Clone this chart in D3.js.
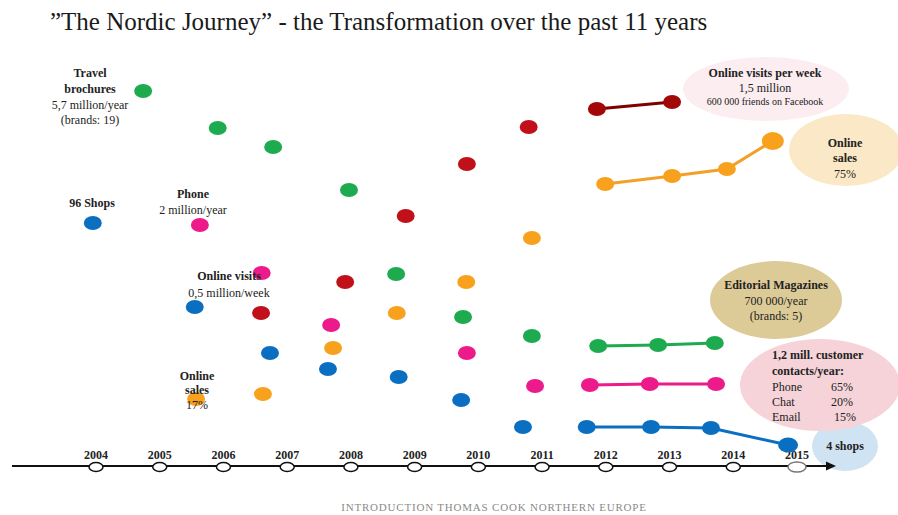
<!DOCTYPE html>
<html><head><meta charset="utf-8">
<script src="https://cdn.jsdelivr.net/npm/d3@7/dist/d3.min.js"></script>
<style>
html,body{margin:0;padding:0;background:#fff;}
svg{display:block;font-family:"Liberation Serif","Times New Roman",serif;}
</style></head>
<body><svg id="chart" width="898" height="515"></svg>
<script>
// ---------- data ----------
const years = [2004,2005,2006,2007,2008,2009,2010,2011,2012,2013,2014,2015];
const seriesNames = ["Travel brochures","Online visits","Phone","Shops","Online sales"];
const brochureX = [2004.74,2005.91,2006.78,2007.97,2008.71,2009.76,2010.84,2011.88,2012.82,2013.71];
const brochureY = [375,338,319,276,192,149,130,120,121,123];
const visitsX = [2006.59,2007.91,2008.86,2009.82,2010.79,2011.86,2013.04];
const visitsY = [153,184,250,302,339,357,364];
const phoneX = [2005.63,2006.60,2007.69,2009.82,2010.89,2011.75,2012.69,2013.73];
const phoneY = [241,193,141,113,80,81,82,82];
const shopsX = [2003.95,2005.55,2006.73,2007.64,2008.75,2009.73,2010.70,2011.70,2012.71,2013.65,2014.86];
const shopsY = [243,159,113,97,89,66,39,39,39,38,21];
const salesX = [2005.57,2006.62,2007.72,2008.72,2009.81,2010.84,2011.99,2013.04,2013.90,2014.62];
const salesY = [67,72,118,153,184,228,282,290,297,325];
const trendStart = [7,5,5,7,6];   // index from which the recent points are connected
const dotColors = ["#1eab50","#c1101a","#ec1a8b","#0b6fc1","#f7a11d"];
const trendColors = ["#1eab50","#a20808","#ec1a8b","#0b6fc1","#f7a11d"];
const lineColors = ["#1eab50","#7e0000","#ec1a8b","#0b6fc1","#f2a02a"];

const title = "\u201DThe Nordic Journey\u201D - the Transformation over the past 11 years";
const footer = "INTRODUCTION THOMAS COOK NORTHERN EUROPE";

// ---------- layout ----------
const svg = d3.select("#chart");
const x = d3.scaleLinear().domain([2004,2015]).range([96,797]);
const y = d3.scaleLinear().domain([0,400]).range([466,66]);
const axisY = 466;

svg.append("text").attr("x",50).attr("y",30).attr("font-size",25).attr("fill","#1a1a1a")
  .text(title);

// bubbles (background shapes)
const bubbles = [
  {cx:766,cy:89,rx:83,ry:32,fill:"#fcedf0"},
  {cx:846,cy:150,rx:57,ry:36,fill:"#fae8c6"},
  {cx:776,cy:300,rx:66,ry:39,fill:"#dccb97"},
  {cx:845,cy:446,rx:33,ry:25,fill:"#d0e3f3"},
  {cx:820,cy:385,rx:80,ry:46,fill:"#f5d3d8"}
];
svg.append("g").selectAll("ellipse").data(bubbles).join("ellipse")
  .attr("cx",d=>d.cx).attr("cy",d=>d.cy).attr("rx",d=>d.rx).attr("ry",d=>d.ry)
  .attr("fill",d=>d.fill);

// timeline axis
const axis = svg.append("g");
axis.append("line").attr("x1",12).attr("x2",830).attr("y1",axisY).attr("y2",axisY)
  .attr("stroke","#111").attr("stroke-width",2);
axis.append("path").attr("d",`M826,${axisY-4.5}L836,${axisY}L826,${axisY+4.5}Z`).attr("fill","#111");
axis.selectAll("text.yr").data(years).join("text").attr("class","yr")
  .attr("x",d=>x(d)).attr("y",axisY-7).attr("text-anchor","middle")
  .attr("font-size",12).attr("font-weight","bold").attr("fill","#222").text(d=>d);
axis.selectAll("ellipse").data(years).join("ellipse")
  .attr("cx",d=>x(d)).attr("cy",axisY+1).attr("rx",d=>d===2015?9:7).attr("ry",d=>d===2015?5:4.5)
  .attr("fill","#fff").attr("stroke",d=>d===2015?"#777":"#111").attr("stroke-width",1.5);

// series
const allX = [brochureX,visitsX,phoneX,shopsX,salesX];
const allY = [brochureY,visitsY,phoneY,shopsY,salesY];
const series = seriesNames.map((name,i)=>({
  name, color:dotColors[i], trend:trendColors[i], lineColor:lineColors[i],
  pts: allX[i].map((v,j)=>({year:v, val:allY[i][j], j, trend:j>=trendStart[i]})),
  start: trendStart[i]
}));
const line = d3.line().x(d=>x(d.year)).y(d=>y(d.val));
const sg = svg.append("g");
series.forEach((s,i)=>{
  sg.append("path").datum(s.pts.filter(p=>p.trend)).attr("d",line)
    .attr("fill","none").attr("stroke",s.lineColor).attr("stroke-width",3);
});
series.forEach((s,i)=>{
  const n = s.pts.length;
  sg.append("g").selectAll("ellipse").data(s.pts).join("ellipse")
    .attr("cx",d=>x(d.year)).attr("cy",d=>y(d.val))
    .attr("rx",d=>(d.j===n-1 && i===4)?11:(d.j===n-1 && i===3)?10:9)
    .attr("ry",d=>(d.j===n-1 && i===4)?9:(d.j===n-1 && i===3)?7.5:7)
    .attr("fill",d=>d.trend?s.trend:s.color);
});

// annotations
const notes = [
  {x:90, y:77, anchor:"middle", lines:[["Travel",1,12],["brochures",1,12],["5,7 million/year",0,12],["(brands: 19)",0,12]], dy:[0,16,32,47]},
  {x:92, y:207, anchor:"middle", lines:[["96 Shops",1,12]], dy:[0]},
  {x:193, y:198, anchor:"middle", lines:[["Phone",1,12],["2 million/year",0,12]], dy:[0,16]},
  {x:229, y:280, anchor:"middle", lines:[["Online visits",1,12],["0,5 million/week",0,12]], dy:[0,17]},
  {x:197, y:380, anchor:"middle", lines:[["Online",1,12],["sales",1,12],["17%",0,12]], dy:[0,14,29]},
  {x:765, y:77, anchor:"middle", lines:[["Online visits per week",1,12],["1,5 million",0,12],["600 000 friends on Facebook",0,10]], dy:[0,15,28]},
  {x:845, y:147, anchor:"middle", lines:[["Online",1,12],["sales",1,12],["75%",0,12]], dy:[0,15,31]},
  {x:776, y:289, anchor:"middle", lines:[["Editorial Magazines",1,12],["700 000/year",0,12],["(brands: 5)",0,12]], dy:[0,16,31]},
  {x:772, y:359, anchor:"start", lines:[["1,2 mill. customer",1,12],["contacts/year:",1,12],["Phone",0,12],["Chat",0,12],["Email",0,12]], dy:[0,16,32,47,62]},
  {x:853, y:391, anchor:"end", lines:[["65%",0,12],["20%",0,12],["15%",0,12]], dy:[0,15,30]},
  {x:845, y:450, anchor:"middle", lines:[["4 shops",1,12]], dy:[0]}
];
const ng = svg.append("g");
notes.forEach(n=>{
  const t = ng.append("text").attr("text-anchor",n.anchor).attr("fill","#222");
  n.lines.forEach((l,k)=>{
    t.append("tspan").attr("x", n.anchor==="end" && k===2 ? n.x+3 : n.x)
      .attr("y",n.y+n.dy[k]).attr("font-weight",l[1]?"bold":"normal")
      .attr("font-size",l[2]).text(l[0]);
  });
});

svg.append("text").attr("x",494).attr("y",511).attr("text-anchor","middle")
  .attr("font-size",11).attr("letter-spacing",0.8).attr("fill","#8a8a8a").text(footer);
</script></body></html>
